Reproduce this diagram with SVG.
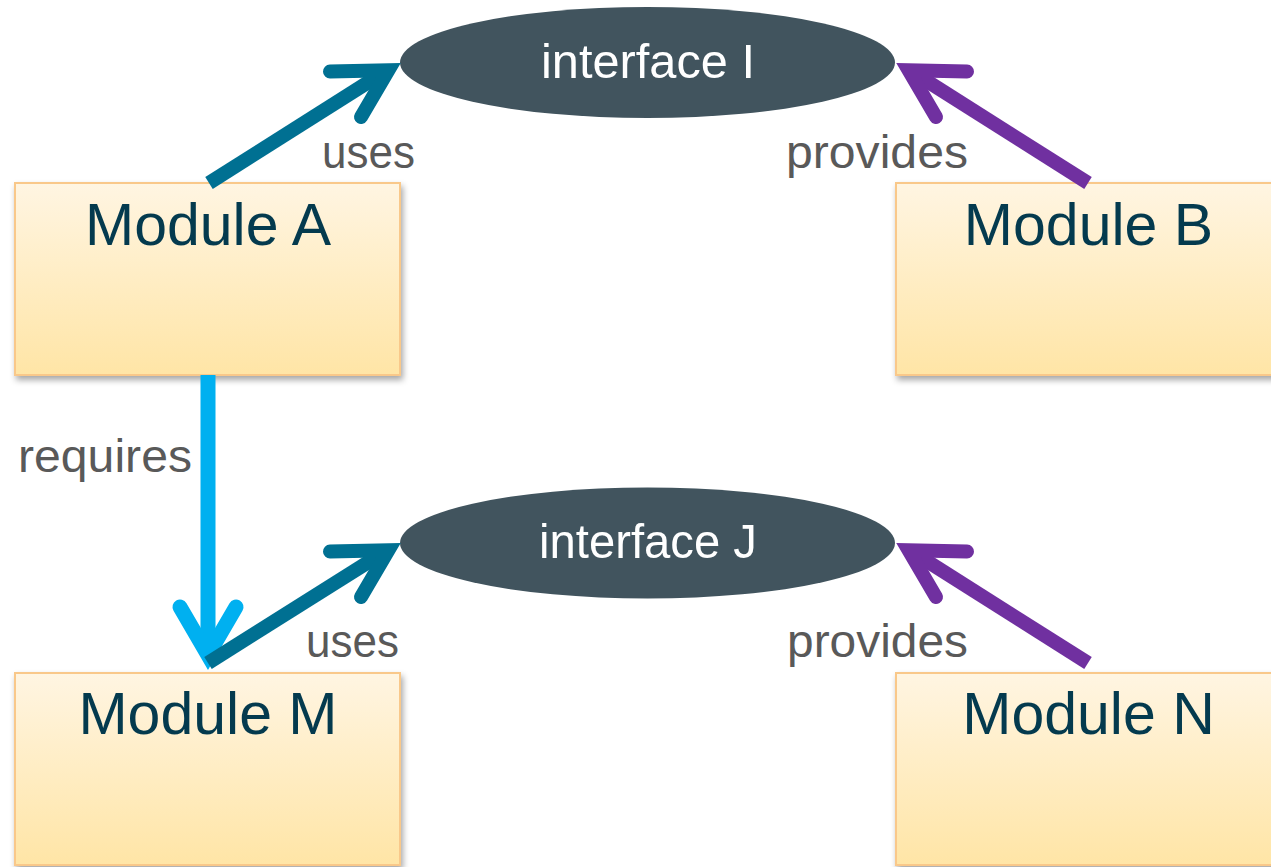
<svg xmlns="http://www.w3.org/2000/svg" width="1271" height="867" viewBox="0 0 1271 867">
  <defs>
    <linearGradient id="boxGrad" x1="0" y1="0" x2="0" y2="1">
      <stop offset="0" stop-color="#FFF5E2"/>
      <stop offset="1" stop-color="#FFE5A6"/>
    </linearGradient>
    <filter id="shadow" x="-10%" y="-10%" width="125%" height="130%">
      <feDropShadow dx="2" dy="4" stdDeviation="3" flood-color="#000" flood-opacity="0.35"/>
    </filter>
  </defs>
  <style>
    .box { fill: url(#boxGrad); stroke: #F9C88A; stroke-width: 2; filter: url(#shadow); }
    .mod { font-family: "Liberation Sans", Arial, sans-serif; font-size: 59px; fill: #043A4E; text-anchor: middle; }
    .iface { fill: #41545E; }
    .itext { font-family: "Liberation Sans", Arial, sans-serif; font-size: 49px; fill: #FFFFFF; }
    .lbl { font-family: "Liberation Sans", Arial, sans-serif; font-size: 47px; fill: #595959; }
    .shaft { fill: none; stroke-width: 14; stroke-linecap: butt; }
    .head { fill: none; stroke-width: 14; stroke-linecap: round; stroke-linejoin: miter; stroke-miterlimit: 10; }
    .teal { stroke: #007092; }
    .purple { stroke: #7030A0; }
    .blue { stroke: #00B0F0; }
  </style>

  <rect width="1271" height="867" fill="#FFFFFF"/>

  <g id="interface-I">
    <ellipse class="iface" cx="647.5" cy="62.5" rx="247.5" ry="55.5"/>
    <text class="itext" x="541" y="78" textLength="214" lengthAdjust="spacingAndGlyphs">interface I</text>
  </g>
  <g id="interface-J">
    <ellipse class="iface" cx="647.5" cy="543" rx="247.5" ry="55.5"/>
    <text class="itext" x="539" y="558" textLength="218" lengthAdjust="spacingAndGlyphs">interface J</text>
  </g>

  <g id="module-A">
    <rect class="box" x="15" y="183" width="385" height="192"/>
    <text class="mod" x="208" y="245">Module A</text>
  </g>
  <g id="module-B">
    <rect class="box" x="896" y="183" width="385" height="192"/>
    <text class="mod" x="1088.5" y="245">Module B</text>
  </g>
  <g id="module-M">
    <rect class="box" x="15" y="673" width="385" height="192"/>
    <text class="mod" x="208" y="734">Module M</text>
  </g>
  <g id="module-N">
    <rect class="box" x="896" y="673" width="385" height="192"/>
    <text class="mod" x="1088.5" y="734">Module N</text>
  </g>

  <g id="connectors">
    <!-- A uses I -->
    <path class="shaft teal" d="M209,183 L386,71"/>
    <polyline class="head teal" points="330,71.5 388.4,70.3 361,117"/>
    <!-- B provides I -->
    <path class="shaft purple" d="M1088,183 L911,71"/>
    <polyline class="head purple" points="967,71.5 908.6,70.3 936,117"/>
    <!-- A requires M -->
    <path class="shaft blue" d="M208,375 L208,652" style="stroke-width:15"/>
    <polyline class="head blue" points="180,607 208,655 236,607" style="stroke-width:15"/>
    <!-- M uses J -->
    <path class="shaft teal" d="M208,663 L386,551"/>
    <polyline class="head teal" points="330,551.5 388.4,550.3 361,597"/>
    <!-- N provides J -->
    <path class="shaft purple" d="M1088,663 L911,551"/>
    <polyline class="head purple" points="967,551.5 908.6,550.3 936,597"/>
  </g>

  <g id="labels">
    <text class="lbl" x="322" y="168" textLength="93" lengthAdjust="spacingAndGlyphs">uses</text>
    <text class="lbl" x="786" y="168" textLength="182" lengthAdjust="spacingAndGlyphs">provides</text>
    <text class="lbl" x="18" y="472" textLength="174" lengthAdjust="spacingAndGlyphs">requires</text>
    <text class="lbl" x="306" y="657" textLength="93" lengthAdjust="spacingAndGlyphs">uses</text>
    <text class="lbl" x="787" y="657" textLength="181" lengthAdjust="spacingAndGlyphs">provides</text>
  </g>
</svg>
